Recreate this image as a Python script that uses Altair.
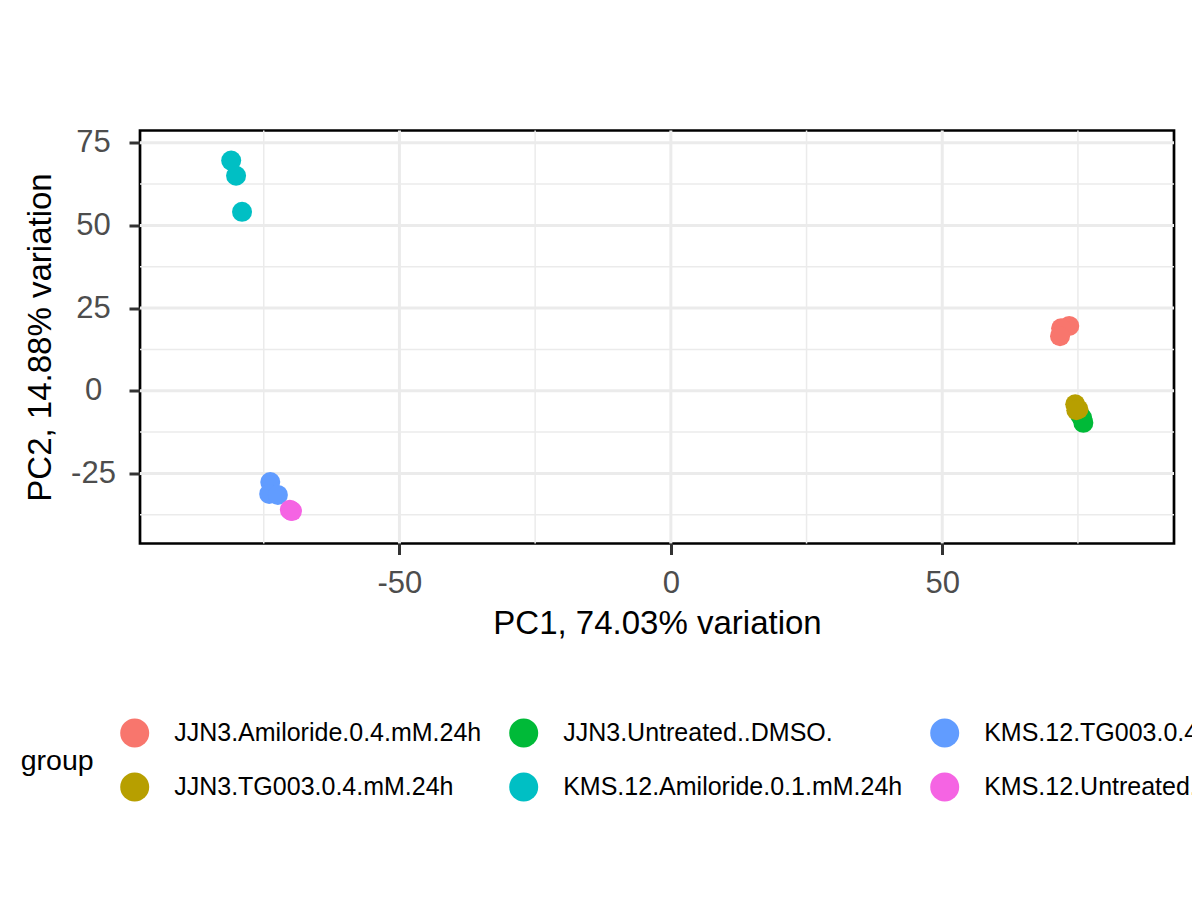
import altair as alt
import pandas as pd

# ---- data ----
groups = [
    "JJN3.Untreated..DMSO.", "JJN3.Untreated..DMSO.", "JJN3.Untreated..DMSO.",
    "JJN3.Amiloride.0.4.mM.24h", "JJN3.Amiloride.0.4.mM.24h", "JJN3.Amiloride.0.4.mM.24h",
    "JJN3.TG003.0.4.mM.24h", "JJN3.TG003.0.4.mM.24h", "JJN3.TG003.0.4.mM.24h",
    "KMS.12.Amiloride.0.1.mM.24h", "KMS.12.Amiloride.0.1.mM.24h", "KMS.12.Amiloride.0.1.mM.24h",
    "KMS.12.TG003.0.4.mM.24h", "KMS.12.TG003.0.4.mM.24h", "KMS.12.TG003.0.4.mM.24h",
    "KMS.12.Untreated..DMSO.", "KMS.12.Untreated..DMSO.", "KMS.12.Untreated..DMSO.",
]
pc1 = [75.4, 75.8, 76.0,
       73.4, 71.9, 71.7,
       74.5, 75.1, 74.7,
       -81.0, -80.1, -79.0,
       -73.8, -74.0, -72.4,
       -70.2, -69.8, -70.0]
pc2 = [-7.4, -8.3, -9.7,
       19.6, 18.9, 16.5,
       -4.1, -5.6, -5.9,
       69.6, 65.0, 54.1,
       -27.6, -31.2, -31.5,
       -36.0, -36.4, -36.3]

# legend order (row-wise fill reproduces ggplot's column-wise layout)
legend_order = [
    "JJN3.Amiloride.0.4.mM.24h", "JJN3.Untreated..DMSO.", "KMS.12.TG003.0.4.mM.24h",
    "JJN3.TG003.0.4.mM.24h", "KMS.12.Amiloride.0.1.mM.24h", "KMS.12.Untreated..DMSO.",
]
legend_colors = ["#F8766D", "#00BA38", "#619CFF", "#B79F00", "#00BFC4", "#F564E3"]

x_ticks = [-50, 0, 50]
y_ticks = [-25, 0, 25, 50, 75]
x_grid_major = [-50, 0, 50]
x_grid_minor = [-75, -25, 25, 75]
y_grid_major = [-25, 0, 25, 50, 75]
y_grid_minor = [-37.5, -12.5, 12.5, 37.5, 62.5]
x_domain = [-97.8, 92.7]
y_domain = [-46.2, 78.7]

df = pd.DataFrame({"PC1": pc1, "PC2": pc2, "group": groups})

FONT = "Liberation Sans"
xs = alt.Scale(domain=x_domain, nice=False, zero=False)
ys = alt.Scale(domain=y_domain, nice=False, zero=False)

gx_major = alt.Chart(pd.DataFrame({"v": x_grid_major})).mark_rule(
    color="#EBEBEB", strokeWidth=3).encode(x=alt.X("v:Q", scale=xs))
gx_minor = alt.Chart(pd.DataFrame({"v": x_grid_minor})).mark_rule(
    color="#EBEBEB", strokeWidth=1.5).encode(x=alt.X("v:Q", scale=xs))
gy_major = alt.Chart(pd.DataFrame({"v": y_grid_major})).mark_rule(
    color="#EBEBEB", strokeWidth=3).encode(y=alt.Y("v:Q", scale=ys))
gy_minor = alt.Chart(pd.DataFrame({"v": y_grid_minor})).mark_rule(
    color="#EBEBEB", strokeWidth=1.5).encode(y=alt.Y("v:Q", scale=ys))

points = alt.Chart(df).mark_circle(size=400, opacity=1).encode(
    x=alt.X("PC1:Q", scale=xs, title="PC1, 74.03% variation",
            axis=alt.Axis(values=x_ticks, labelPadding=14, titlePadding=9,
                          labelExpr="toString(datum.value)")),
    y=alt.Y("PC2:Q", scale=ys, title="PC2, 14.88% variation",
            axis=alt.Axis(values=y_ticks, labelPadding=36, titlePadding=13,
                          labelAlign="center",
                          labelExpr="toString(datum.value)")),
    color=alt.Color(
        "group:N",
        scale=alt.Scale(domain=legend_order, range=legend_colors),
        legend=alt.Legend(
            orient="none", legendX=-119.3, legendY=588,
            direction="horizontal", columns=3,
            title="group", titleOrient="left", titleAnchor="middle",
            titleFontSize=28.5, titleFont=FONT, titleFontWeight="normal",
            titleColor="black", titlePadding=26.5,
            labelFontSize=25, labelFont=FONT, labelColor="black",
            labelOffset=25, labelLimit=1000,
            symbolType="circle", symbolSize=841, symbolStrokeWidth=0,
            symbolOpacity=1, columnPadding=27, rowPadding=25, padding=0,
        ),
    ),
)

chart = alt.layer(gx_minor, gy_minor, gx_major, gy_major, points).properties(
    width=1034, height=413,
    background="white",
    autosize=alt.AutoSizeParams(type="none"),
    padding={"left": 132, "top": 122.5, "right": 18, "bottom": 348.5},
).configure_view(
    stroke="black", strokeWidth=2.7, fill="white"
).configure_axis(
    grid=False, domain=False,
    tickColor="#333333", tickWidth=3, tickSize=11,
    labelFont=FONT, labelFontSize=31, labelColor="#4D4D4D",
    titleFont=FONT, titleFontSize=33, titleFontWeight="normal", titleColor="black",
)

chart.save("out.html", embed_options={"renderer": "svg", "actions": False})
